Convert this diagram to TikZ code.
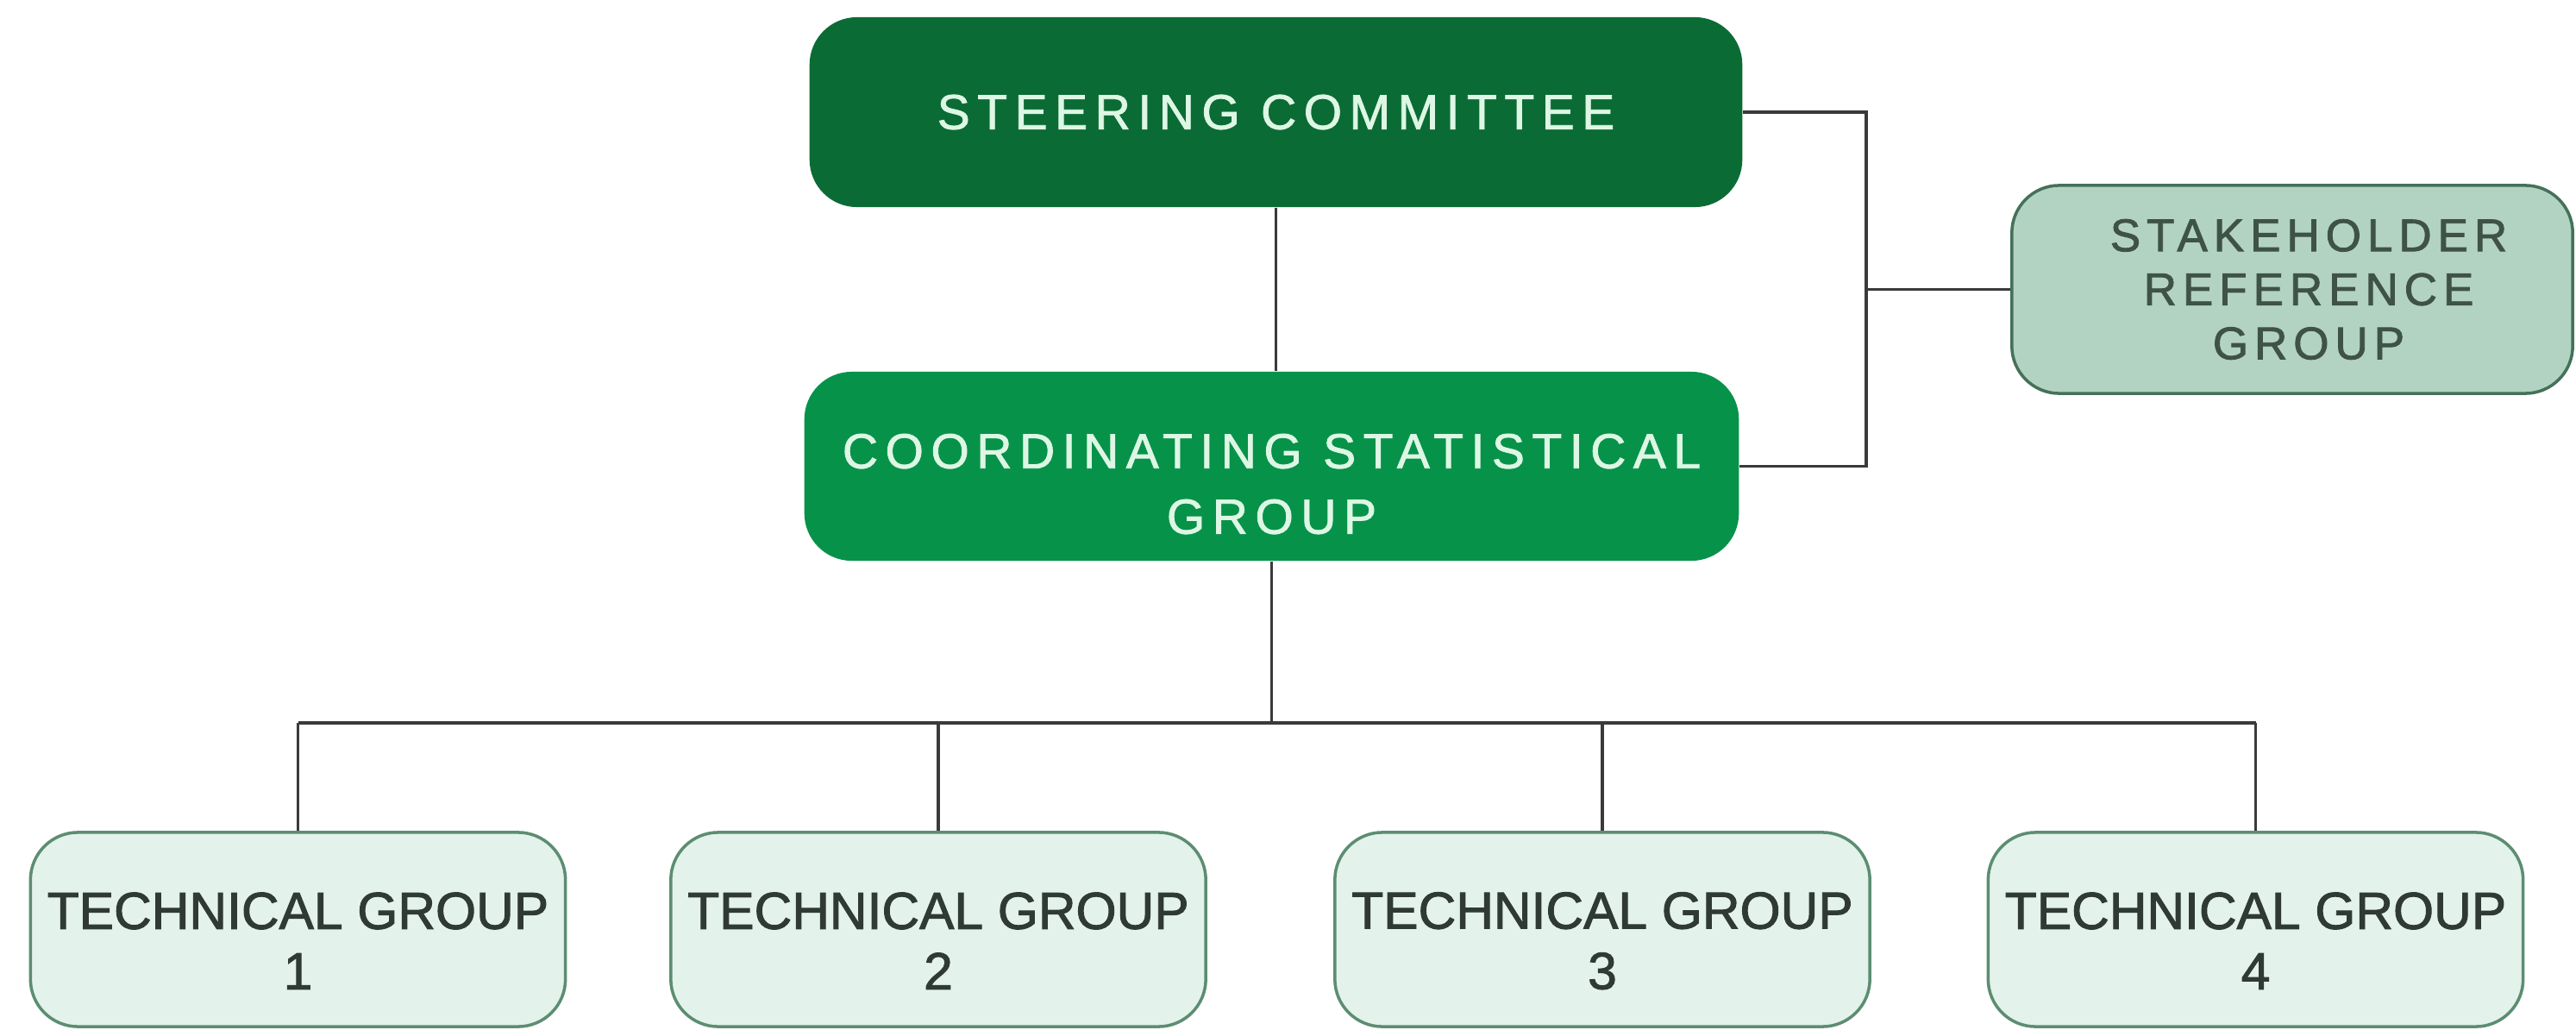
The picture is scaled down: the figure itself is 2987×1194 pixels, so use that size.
\documentclass[tikz,border=0pt]{standalone}
\usepackage{fontspec}
\setmainfont[FakeBold=1.6]{Liberation Sans}
\newfontfamily\wideface[LetterSpace=15,FakeBold=1.4]{Liberation Sans}
\newfontfamily\stakeface[LetterSpace=13,FakeBold=1.6]{Liberation Sans}
\newcommand{\pushdown}[1]{\rule{0pt}{#1}}
\newcommand{\nudge}{\hspace*{0.38cm}}
\definecolor{scfill}{HTML}{0B6B35}
\definecolor{csfill}{HTML}{07924A}
\definecolor{mint}{HTML}{DDF7E4}
\definecolor{srfill}{HTML}{B3D3C2}
\definecolor{srline}{HTML}{44715A}
\definecolor{srtext}{HTML}{3F5248}
\definecolor{tgfill}{HTML}{E3F2EA}
\definecolor{tgline}{HTML}{5C8D72}
\definecolor{tgtext}{HTML}{2F3A34}
\definecolor{conncol}{HTML}{3A3A3A}
\begin{document}
\begin{tikzpicture}[x=0.01cm,y=-0.01cm,
  box/.style={rectangle, rounded corners=0.55cm, align=center, inner sep=0pt},
  topbox/.style={box, fill=scfill, text=mint, font=\wideface\fontsize{16.2}{21.6}\selectfont},
  midbox/.style={box, fill=csfill, text=mint, font=\wideface\fontsize{16.2}{21.6}\selectfont},
  stakebox/.style={box, fill=srfill, draw=srline, line width=1pt, text=srtext, font=\stakeface\fontsize{15.1}{17.8}\selectfont},
  tgbox/.style={box, fill=tgfill, draw=tgline, line width=1pt, text=tgtext, minimum width=6.2cm, minimum height=2.25cm, font=\fontsize{17.2}{19.9}\selectfont},
  conn/.style={draw=conncol, line width=0.9pt},
  busline/.style={draw=conncol, line width=1.3pt}]
\fill[white] (0,0) rectangle (2987,1194);
\useasboundingbox (0,0) rectangle (2987,1194);

\node[topbox, minimum width=10.81cm, minimum height=2.20cm] (sc) at (1479.5,130) {STEERING COMMITTEE};
\node[midbox, minimum width=10.83cm, minimum height=2.19cm] (csg) at (1474.5,540.5) {\pushdown{23pt}COORDINATING STATISTICAL\\GROUP};
\node[stakebox, minimum width=6.50cm, minimum height=2.41cm] (srg) at (2658,335.5) {\nudge STAKEHOLDER\\\nudge REFERENCE\\\nudge GROUP};

\node[tgbox] (tg1) at (345.5,1077.5) {\pushdown{19.5pt}TECHNICAL GROUP\\1};
\node[tgbox] (tg2) at (1088,1077.5) {\pushdown{19.5pt}TECHNICAL GROUP\\2};
\node[tgbox] (tg3) at (1858,1077.5) {\pushdown{19.5pt}TECHNICAL GROUP\\3};
\node[tgbox] (tg4) at (2615.5,1077.5) {\pushdown{19.5pt}TECHNICAL GROUP\\4};

% steering -> coordinating
\draw[conn] (sc.south) -- (sc.south |- csg.north);
% bracket to stakeholder group
\path (srg.west) ++(-167,0) coordinate (brk);
\draw[conn] (sc.east) -| (brk);
\draw[conn] (csg.east) -| (brk);
\draw[conn] (brk) -- (srg.west);
% bus to technical groups
\coordinate (bus) at (0,838);
\draw[conn] (csg.south) -- (csg.south |- bus);
\draw[busline] (tg1.north |- bus) -- (tg4.north |- bus);
\foreach \t in {tg1,tg2,tg3,tg4}{
  \draw[conn] (\t.north |- bus) -- (\t.north);
}
\end{tikzpicture}
\end{document}
